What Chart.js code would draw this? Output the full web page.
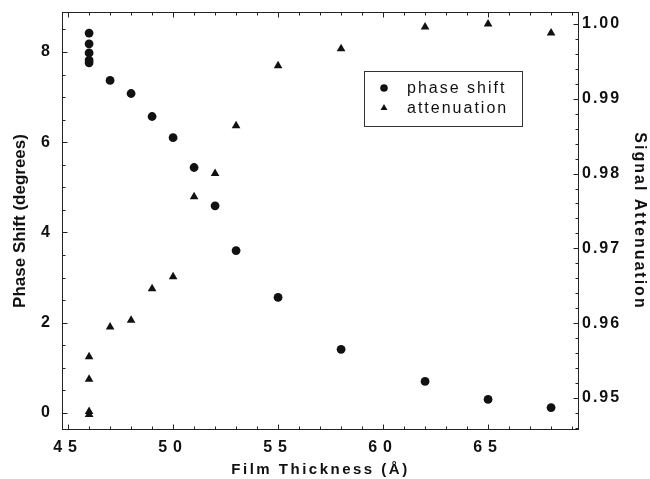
<!DOCTYPE html>
<html>
<head>
<meta charset="utf-8">
<script src="https://cdn.jsdelivr.net/npm/chart.js@4.4.0/dist/chart.umd.min.js"></script>
<style>
  html, body { margin: 0; padding: 0; background: #fff; }
  #wrap { width: 650px; height: 479px; }
</style>
</head>
<body>
<div id="wrap"><canvas id="filmChart" width="650" height="479"></canvas></div>
<script>
// Film thickness (Å) for each measurement
const thicknessPhase = [46, 46, 46, 46, 46, 47, 48, 49, 50, 51, 52, 53, 55, 58, 62, 65, 68];
const phaseShift = [8.42, 8.18, 7.98, 7.82, 7.76, 7.37, 7.08, 6.57, 6.10, 5.44, 4.59, 3.60, 2.56, 1.41, 0.70, 0.30, 0.12];

const thicknessAtten = [46, 46, 46, 46, 47, 48, 49, 50, 51, 52, 53, 55, 58, 62, 65, 68];
const attenuation = [0.9555, 0.9525, 0.9482, 0.9478, 0.9595, 0.9604, 0.9646, 0.9662, 0.9769, 0.9800, 0.9864, 0.9944, 0.9967, 0.9996, 1.0000, 0.9988];

// Tick labels
const xTicks = [45, 50, 55, 60, 65];
const phaseTicks = [0, 2, 4, 6, 8];
const attenTicks = [0.95, 0.96, 0.97, 0.98, 0.99, 1.00];

const ink = '#111';
Chart.defaults.font.family = '"Liberation Sans", Arial, sans-serif';
Chart.defaults.color = ink;

// letter spacing per scale (ticks, title) - the original has spaced lettering
const spacing = {
    x: { ticks: '6px', title: '2.5px' },
    y: { ticks: '0px', title: '0px' },
    y2: { ticks: '2px', title: '2px' }
};

const spacedText = {
    id: 'spacedText',
    beforeDraw(chart) {
        Object.values(chart.scales).forEach(s => {
            if (s._spaced) return;
            const sp = spacing[s.id];
            const drawLabels = s.drawLabels;
            const drawTitle = s.drawTitle;
            s.drawLabels = function (area) {
                this.ctx.save();
                this.ctx.letterSpacing = sp.ticks;
                drawLabels.call(this, area);
                this.ctx.restore();
            };
            s.drawTitle = function () {
                this.ctx.save();
                this.ctx.letterSpacing = sp.title;
                drawTitle.call(this);
                this.ctx.restore();
            };
            s._spaced = true;
        });
    }
};

// Frame with inward tick marks on all four sides
const frameTicks = {
    id: 'frameTicks',
    afterDraw(chart) {
        const { ctx, chartArea: a, scales } = chart;
        const L = Math.round(a.left) + 0.5, R = Math.round(a.right) - 0.5;
        const T = Math.round(a.top) + 0.5, B = Math.round(a.bottom) - 0.5;
        ctx.save();
        ctx.strokeStyle = '#222';
        ctx.lineWidth = 1;
        ctx.strokeRect(L, T, R - L, B - T);
        ctx.beginPath();
        // x axis: bottom and top
        for (let v = 45; v <= 69; v++) {
            const len = v % 5 === 0 ? 5 : 3;
            const px = Math.round(scales.x.getPixelForValue(v)) + 0.5;
            ctx.moveTo(px, B); ctx.lineTo(px, B - len);
            ctx.moveTo(px, T); ctx.lineTo(px, T + len);
        }
        // left axis
        for (let v = 0; v <= 8.5; v += 0.5) {
            const len = v % 2 === 0 ? 5 : 3;
            const py = Math.round(scales.y.getPixelForValue(v)) + 0.5;
            ctx.moveTo(L, py); ctx.lineTo(L + len, py);
        }
        // right axis
        for (let i = 473; i <= 500; i++) {
            const v = i / 500;
            const len = i % 5 === 0 ? 5 : 3;
            const py = Math.round(scales.y2.getPixelForValue(v)) + 0.5;
            ctx.moveTo(R, py); ctx.lineTo(R - len, py);
        }
        ctx.stroke();
        ctx.restore();
    }
};

// Boxed legend inside the plot
const boxLegend = {
    id: 'boxLegend',
    afterDraw(chart) {
        const { ctx, chartArea: a } = chart;
        const bx = a.left + 302, by = a.top + 59, bw = 158, bh = 55;
        ctx.save();
        ctx.strokeStyle = '#333';
        ctx.lineWidth = 1;
        ctx.strokeRect(bx + 0.5, by + 0.5, bw, bh);
        ctx.fillStyle = ink;
        const items = [
            { text: 'phase shift', style: 'circle', r: 3.8 },
            { text: 'attenuation', style: 'triangle', r: 4 }
        ];
        ctx.font = '16px "Liberation Sans", Arial, sans-serif';
        ctx.letterSpacing = '2px';
        ctx.textBaseline = 'alphabetic';
        items.forEach((it, i) => {
            const cy = by + 17 + i * 20;
            ctx.beginPath();
            Chart.helpers.drawPoint(ctx, { pointStyle: it.style, radius: it.r, rotation: 0, borderWidth: 0 }, bx + 20, cy);
            ctx.fillText(it.text, bx + 43, cy + 5);
        });
        ctx.restore();
    }
};

// drop the extra room Chart.js keeps for labels at the scale ends
function noEndPadding(s) {
    s.paddingTop = 0;
    s.paddingBottom = 0;
    s.paddingLeft = 0;
    s.paddingRight = 0;
}

new Chart(document.getElementById('filmChart'), {
    type: 'scatter',
    data: {
        datasets: [
            {
                label: 'phase shift',
                data: thicknessPhase.map((t, i) => ({ x: t, y: phaseShift[i] })),
                yAxisID: 'y',
                pointStyle: 'circle',
                pointRadius: 4.4,
                backgroundColor: ink,
                borderColor: ink,
                borderWidth: 0
            },
            {
                label: 'attenuation',
                data: thicknessAtten.map((t, i) => ({ x: t, y: attenuation[i] })),
                yAxisID: 'y2',
                pointStyle: 'triangle',
                pointRadius: 5,
                backgroundColor: ink,
                borderColor: ink,
                borderWidth: 0
            }
        ]
    },
    options: {
        responsive: false,
        animation: false,
        events: [],
        layout: { padding: { top: 12, left: 0, right: 0, bottom: 0 } },
        plugins: {
            legend: { display: false },
            tooltip: { enabled: false }
        },
        scales: {
            x: {
                type: 'linear',
                min: 44.71,
                max: 69.33,
                grid: { display: false, drawTicks: false },
                border: { display: false },
                afterBuildTicks: s => { s.ticks = xTicks.map(v => ({ value: v })); },
                afterFit: s => { s.height = 49; noEndPadding(s); },
                ticks: { font: { size: 16, weight: 'bold' }, padding: 8, color: ink },
                title: {
                    display: true,
                    text: 'Film Thickness (Å)',
                    font: { size: 15, weight: 'bold' },
                    padding: { top: 0, bottom: 0 },
                    color: ink
                }
            },
            y: {
                type: 'linear',
                position: 'left',
                min: -0.377,
                max: 8.886,
                grid: { display: false, drawTicks: false },
                border: { display: false },
                afterBuildTicks: s => { s.ticks = phaseTicks.map(v => ({ value: v })); },
                afterFit: s => { s.width = 62; noEndPadding(s); },
                ticks: { font: { size: 16, weight: 'bold' }, padding: 12, color: ink },
                title: {
                    display: true,
                    text: 'Phase Shift (degrees)',
                    font: { size: 17, weight: 'bold' },
                    padding: { top: 10, bottom: 0 },
                    color: ink
                }
            },
            y2: {
                type: 'linear',
                position: 'right',
                min: 0.94572,
                max: 1.0016,
                grid: { display: false, drawTicks: false },
                border: { display: false },
                afterBuildTicks: s => { s.ticks = attenTicks.map(v => ({ value: v })); },
                afterFit: s => { s.width = 71; noEndPadding(s); },
                ticks: {
                    font: { size: 16, weight: 'bold' },
                    padding: 3,
                    color: ink,
                    callback: v => v.toFixed(2)
                },
                title: {
                    display: true,
                    text: 'Signal Attenuation',
                    font: { size: 16, weight: 'bold' },
                    padding: { top: 1, bottom: 0 },
                    color: ink
                }
            }
        }
    },
    plugins: [spacedText, frameTicks, boxLegend]
});
</script>
</body>
</html>
